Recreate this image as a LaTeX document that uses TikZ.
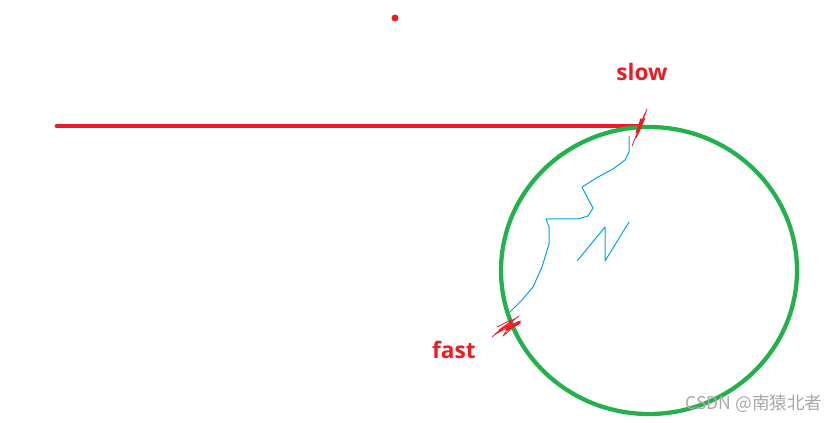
\documentclass[tikz,border=0pt]{standalone}
\usepackage{fontspec}
\usepackage{xcolor}
\newfontfamily\labelfont{Open Sans}
\newfontfamily\cjk{Noto Sans CJK SC}
\definecolor{paintred}{HTML}{ED1C24}
\definecolor{paintgreen}{HTML}{22B14C}
\definecolor{paintblue}{HTML}{00A2E8}
\definecolor{markgray}{HTML}{A8A8A8}
\tikzset{
  speedlabel/.style={text=paintred, font=\labelfont\bfseries\fontsize{17}{19}\selectfont, inner sep=0pt},
  scribble/.style={draw=paintred, line width=0.6pt, line join=round},
  path/.style={draw=paintblue, line width=0.75pt, line join=round}
}

\begin{document}
\begin{tikzpicture}[x=0.75pt, y=-0.75pt]
        \useasboundingbox (0,0) rectangle (837,423);
        % ray and circle
        \draw[-, paintred, line width=3.7pt, line cap=round] (57,126)--(640,126);
        \draw[paintgreen, line width=3.2pt] (649,270.5) ellipse (148 and 143.5);
        \filldraw[paintred] (395,18) circle (3.2);
        % marks where the ray meets the circle
        \draw[scribble] (632,146)--(645,113)--(639,128)--(647,109)--(636,138)--(645,118)--(638,134);
        \draw[-, paintred, line width=2.4pt] (637,133)--(642,119);
        \draw[scribble] (492,337)--(519,316)--(499,330)--(521,321)--(495,334)--(514,319)--(503,336)--(517,324);
        \draw[scribble] (497,327)--(511,320)--(506,331);
        \draw[-, paintred, line width=2.4pt] (506,330)--(520,322);
        % path inside
        \draw[path] (629,136)--(629,152)--(625,160)--(613,169)--(598,177)--(582,187)--(587,197)--(593,208)--(588,216)--(578,219)--(546,219)--(549,227)--(549,244)--(542,267)--(533,287)--(522,300)--(510,312);
        \draw[path] (577,261)--(605,227)--(605,261)--(629,222);
        % labels
        \node[speedlabel] (slow) at (642,72) {slow};
        \node[speedlabel] (fast) at (454,350) {fast};
        \node[text=markgray, font=\cjk\fontsize{13.2}{15}\selectfont, inner sep=0pt] (mark) at (754,404) {CSDN @南猿北者};
\end{tikzpicture}
\end{document}
